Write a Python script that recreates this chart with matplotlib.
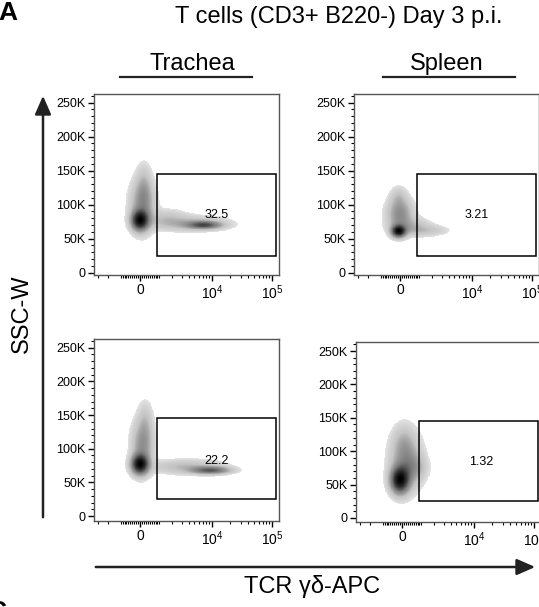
import matplotlib
matplotlib.use('Agg')
import matplotlib.pyplot as plt
import numpy as np
from matplotlib.patches import Rectangle, FancyArrowPatch
from matplotlib.lines import Line2D
from matplotlib.colors import LinearSegmentedColormap

plt.rcParams['font.family'] = ['Liberation Sans', 'DejaVu Sans']
plt.rcParams['mathtext.fontset'] = 'custom'
plt.rcParams['mathtext.rm'] = 'Liberation Sans'
plt.rcParams['mathtext.it'] = 'Liberation Sans:italic'
plt.rcParams['mathtext.bf'] = 'Liberation Sans:bold'

# --- data -------------------------------------------------------------
title = 'T cells (CD3+ B220-) Day 3 p.i.'
tissues = ['Trachea', 'Spleen']
x_label = 'TCR γδ-APC'
y_label = 'SSC-W'

# populations per panel: (TCR gd center, SSC-W center [K], spread in asinh units, spread [K], weight)
trachea_top = [(0, 77, 0.20, 9, 1.0),
               (127, 100, 0.28, 22, 0.30),
               (191, 125, 0.18, 20, 0.12),
               (7340, 70, 0.40, 3.5, 0.55),
               (4220, 72, 0.85, 6.5, 0.18),
               (1490, 80, 0.50, 8, 0.10)]
spleen_top = [(-63, 61, 0.17, 5.5, 1.0),
              (0, 86, 0.30, 14, 0.30),
              (-63, 110, 0.20, 10, 0.10),
              (500, 68, 0.45, 8, 0.14),
              (1500, 62, 0.50, 5, 0.10)]
trachea_bottom = [(0, 77, 0.20, 9, 1.0),
                  (127, 105, 0.25, 22, 0.28),
                  (255, 140, 0.18, 18, 0.10),
                  (9430, 68, 0.45, 3.5, 0.50),
                  (3760, 73, 0.85, 6.5, 0.15)]
spleen_bottom = [(-100, 57, 0.22, 12, 1.0),
                 (191, 85, 0.35, 25, 0.30),
                 (63, 115, 0.25, 15, 0.08),
                 (590, 75, 0.30, 12, 0.15)]

gate_x = (890, 117000)
gate_y = (25000, 145000)
percents = ['32.5', '3.21', '22.2', '1.32']
percent_pos = [(12000, 85000), (12000, 85000), (12000, 82000), (13000, 84000)]

y_ticks = [0, 50000, 100000, 150000, 200000, 250000]
y_ticklabels = ['0', '50K', '100K', '150K', '200K', '250K']
x_ticks = [0, 1e4, 1e5]
x_ticklabels = ['0', '$10^4$', '$10^5$']
x_minor = ([-3000, -2000] + list(range(-1000, 1001, 100)) +
           [2000, 3000, 4000, 5000, 6000, 7000, 8000, 9000] +
           [20000, 30000, 40000, 50000, 60000, 70000, 80000, 90000])

XW = 1269.0  # biexponential-ish width

W, H = 539, 607
fig = plt.figure(figsize=(W / 100, H / 100), dpi=100)


def fx(x):
    return x / W


def fy(y):
    return 1 - y / H


def fwd(x):
    return np.arcsinh(np.asarray(x) / XW)


def inv(u):
    return XW * np.sinh(np.asarray(u))


cmap = LinearSegmentedColormap.from_list(
    'flow', [(0, '#e4e4e4'), (0.45, '#c4c4c4'), (0.75, '#7a7a7a'), (1, '#000000')])

panels = [
    (trachea_top, [94, 275, 185, 181], (-3500, 262500)),
    (spleen_top, [354, 275, 185, 181], (-3500, 262500)),
    (trachea_bottom, [94, 521, 185, 182], (-7400, 263000)),
    (spleen_bottom, [356, 522, 185, 180], (-6000, 263500)),
]

xlim = (-3600, 131000)
uu = np.linspace(fwd(xlim[0]), fwd(xlim[1]), 500)
yy = np.linspace(-8000, 265000, 500)
U, Y = np.meshgrid(uu, yy)
X = inv(U)
thr = 0.02

for i, (comps, (l, b, w, h), ylim) in enumerate(panels):
    ax = fig.add_axes([fx(l), fy(b), w / W, h / H])
    ax.set_xscale('function', functions=(fwd, inv))
    d = np.zeros_like(U)
    for cx, cy, su, sy, wt in comps:
        d += wt * np.exp(-0.5 * ((U - fwd(cx)) / su) ** 2
                         - 0.5 * ((Y / 1000 - cy) / sy) ** 2)
    t = np.log(np.maximum(d, 1e-9) / thr) / np.log(d.max() / thr)
    t = np.ma.masked_where(d < thr, np.clip(t, 0, 1))
    ax.pcolormesh(X, Y, t, cmap=cmap, vmin=0, vmax=1, shading='auto')

    ax.add_patch(Rectangle((gate_x[0], gate_y[0]), gate_x[1] - gate_x[0],
                           gate_y[1] - gate_y[0], fill=False, ec='black', lw=1.1))
    ax.text(percent_pos[i][0], percent_pos[i][1], percents[i], ha='center',
            va='center', fontsize=9)

    ax.set_xlim(*xlim)
    ax.set_ylim(*ylim)
    ax.set_yticks(y_ticks)
    ax.set_yticklabels(y_ticklabels, fontsize=9)
    ax.set_yticks(np.arange(10000, 260001, 10000), minor=True)
    ax.set_xticks(x_ticks)
    ax.set_xticklabels(x_ticklabels, fontsize=10)
    ax.set_xticks(x_minor, minor=True)
    ax.tick_params(axis='both', which='major', length=4, width=1.0, pad=2)
    ax.tick_params(axis='both', which='minor', length=2, width=0.8)
    for s in ax.spines.values():
        s.set_color('#555555')
        s.set_linewidth(1.0)

# headers
fig.text(fx(339), fy(17), title, ha='center', va='center', fontsize=17)
for name, cx, (u0, u1) in [(tissues[0], 192, (120, 252)), (tissues[1], 447, (383, 515))]:
    fig.text(fx(cx), fy(64), name, ha='center', va='center', fontsize=17)
    fig.add_artist(Line2D([fx(u0), fx(u1)], [fy(77), fy(77)], color='#222222', lw=1.6))

fig.text(fx(17), fy(20), 'A', ha='right', va='baseline', fontsize=19, fontweight='bold')
fig.text(fx(7), fy(600), 'C', ha='right', va='top', fontsize=19, fontweight='bold')

# axis arrows
fig.add_artist(FancyArrowPatch((fx(43), fy(520)), (fx(43), fy(93)), transform=fig.transFigure,
                               arrowstyle='-|>,head_length=0.8,head_width=0.35',
                               mutation_scale=14, lw=1.8, color='#222222'))
fig.add_artist(FancyArrowPatch((fx(93), fy(567)), (fx(538), fy(567)), transform=fig.transFigure,
                               arrowstyle='-|>,head_length=0.8,head_width=0.35',
                               mutation_scale=14, lw=1.8, color='#222222'))
fig.text(fx(22), fy(314), y_label, rotation=90, ha='center', va='center', fontsize=17)
fig.text(fx(312), fy(587), x_label, ha='center', va='center', fontsize=17)

fig.savefig('out.png', dpi=100)
